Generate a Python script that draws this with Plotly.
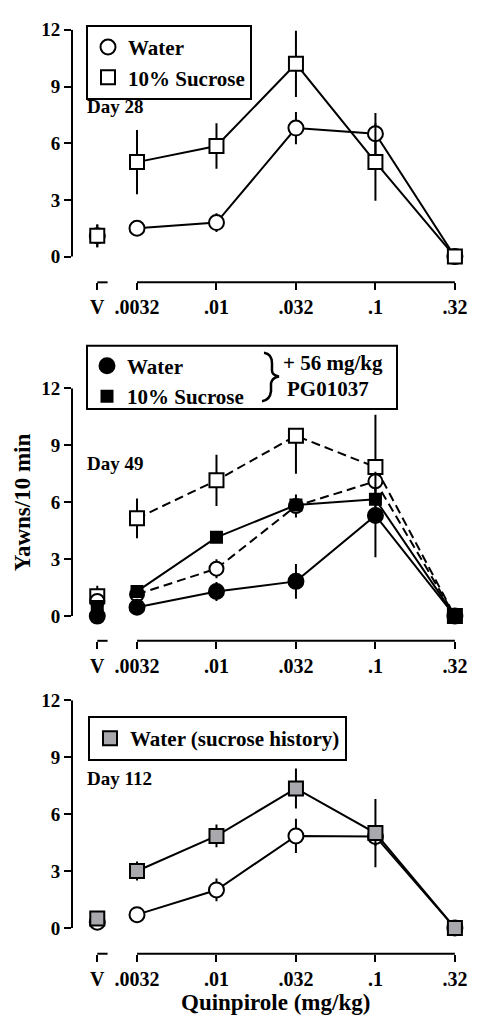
import plotly.graph_objects as go

# ---------------- data ----------------
dose_labels = ["V", ".0032", ".01", ".032", ".1", ".32"]
dose_pos = [-0.5, 0, 1, 2, 3, 4]
y_ticks = [0, 3, 6, 9, 12]

# Day 28
d28_water = [1.1, 1.5, 1.8, 6.8, 6.5, 0.0]
d28_water_err = [0.6, 0.3, 0.5, 0.85, 1.1, 0.0]
d28_sucrose = [1.1, 5.0, 5.85, 10.2, 5.0, 0.0]
d28_sucrose_err = [0.6, 1.7, 1.2, 1.75, 2.05, 0.0]

# Day 49
d49_water = [0.8, 1.15, 2.5, 5.8, 7.1, 0.0]
d49_water_err = [0.3, 0.3, 0.5, 0.6, 0.5, 0.0]
d49_sucrose = [1.05, 5.15, 7.15, 9.5, 7.85, 0.0]
d49_sucrose_err_plus = [0.55, 1.05, 1.35, 0.0, 2.75, 0.0]
d49_sucrose_err_minus = [0.55, 1.05, 1.35, 2.0, 2.75, 0.0]
d49_water_pg = [0.0, 0.47, 1.3, 1.83, 5.3, 0.0]
d49_water_pg_err = [0.2, 0.2, 0.5, 0.92, 2.2, 0.0]
d49_sucrose_pg = [0.5, 1.3, 4.15, 5.85, 6.15, 0.0]
d49_sucrose_pg_err = [0.2, 0.3, 0.3, 0.3, 0.3, 0.0]

# Day 112
d112_water = [0.3, 0.7, 2.0, 4.85, 4.82, 0.0]
d112_water_err = [0.2, 0.2, 0.6, 0.9, 0.5, 0.0]
d112_suchist = [0.5, 3.0, 4.85, 7.35, 5.0, 0.0]
d112_suchist_err = [0.3, 0.5, 0.6, 1.05, 1.8, 0.0]

# ---------------- layout helpers ----------------
W, H = 481, 1028
FONT = "Liberation Serif"


def px(x):
    return x / W


def py(y):
    return 1 - y / H


panels = [
    dict(top=20, bottom=275, ymin=-1.36),
    dict(top=382, bottom=637, ymin=-1.30),
    dict(top=697, bottom=953, ymin=-1.36),
]

fig = go.Figure()


def add_series(i, values, err_plus, err_minus, symbol, fill, size, dash="solid"):
    xa = "x" if i == 1 else f"x{i}"
    ya = "y" if i == 1 else f"y{i}"
    marker = dict(symbol=symbol, size=size, color=fill, line=dict(color="black", width=2))
    err = lambda p, m: dict(type="data", symmetric=False, array=p, arrayminus=m,
                            color="black", thickness=2, width=0)
    fig.add_trace(go.Scatter(
        x=dose_pos[:1], y=values[:1], mode="markers", marker=marker,
        error_y=err(err_plus[:1], err_minus[:1]), xaxis=xa, yaxis=ya,
        showlegend=False, cliponaxis=False, hoverinfo="skip"))
    fig.add_trace(go.Scatter(
        x=dose_pos[1:], y=values[1:], mode="lines+markers", marker=marker,
        line=dict(color="black", width=2, dash=dash),
        error_y=err(err_plus[1:], err_minus[1:]), xaxis=xa, yaxis=ya,
        showlegend=False, cliponaxis=False, hoverinfo="skip"))


def add_legend_entry(name, symbol, fill, size, legend):
    fig.add_trace(go.Scatter(
        x=[None], y=[None], mode="markers", name=name,
        marker=dict(symbol=symbol, size=size, color=fill, line=dict(color="black", width=2)),
        legend=legend, showlegend=True))


add_series(1, d28_water, d28_water_err, d28_water_err, "circle", "white", 15)
add_series(1, d28_sucrose, d28_sucrose_err, d28_sucrose_err, "square", "white", 14)

add_series(2, d49_sucrose, d49_sucrose_err_plus, d49_sucrose_err_minus, "square", "white", 14, dash="9px,5px")
add_series(2, d49_water, d49_water_err, d49_water_err, "circle", "white", 14, dash="9px,5px")
add_series(2, d49_water_pg, d49_water_pg_err, d49_water_pg_err, "circle", "black", 15)
add_series(2, d49_sucrose_pg, d49_sucrose_pg_err, d49_sucrose_pg_err, "square", "black", 11)

add_series(3, d112_water, d112_water_err, d112_water_err, "circle", "white", 15)
add_series(3, d112_suchist, d112_suchist_err, d112_suchist_err, "square", "#a9a9ad", 14)

add_legend_entry("Water", "circle", "white", 15, "legend")
add_legend_entry("10% Sucrose", "square", "white", 14, "legend")
add_legend_entry("Water", "circle", "black", 15, "legend2")
add_legend_entry("10% Sucrose", "square", "black", 11, "legend2")
add_legend_entry("Water (sucrose history)", "square", "#a9a9ad", 14, "legend3")

layout = dict(
    width=W, height=H, margin=dict(l=0, r=0, t=0, b=0),
    paper_bgcolor="white", plot_bgcolor="white",
    font=dict(family=FONT, color="black", size=18, weight="bold"),
)

shapes = []
tickfont_y = dict(family=FONT, size=19, color="black", weight="bold")
tickfont_x = dict(family=FONT, size=20, color="black", weight="bold")
for idx, p in enumerate(panels, start=1):
    sfx = "" if idx == 1 else str(idx)
    layout[f"xaxis{sfx}"] = dict(
        domain=[px(72), px(470)], range=[-0.818, 4.19],
        tickmode="array", tickvals=dose_pos, ticktext=dose_labels,
        ticks="outside", ticklen=7, tickwidth=2, tickcolor="black",
        showline=False, showgrid=False, zeroline=False,
        anchor=f"y{sfx}", tickfont=tickfont_x, fixedrange=True)
    layout[f"yaxis{sfx}"] = dict(
        domain=[py(p["bottom"]), py(p["top"])], range=[p["ymin"], 12],
        tickmode="array", tickvals=y_ticks,
        ticks="outside", ticklen=7, tickwidth=2, tickcolor="black",
        showline=False, showgrid=False, zeroline=False,
        anchor=f"x{sfx}", tickfont=tickfont_y, fixedrange=True)
    shapes.append(dict(type="line", xref=f"x{sfx} domain", yref=f"y{sfx}",
                       x0=0, x1=0, y0=y_ticks[0], y1=y_ticks[-1],
                       line=dict(color="black", width=2)))
    shapes.append(dict(type="line", xref=f"x{sfx}", yref=f"y{sfx} domain",
                       x0=dose_pos[0], x1=dose_pos[0] + 0.13, y0=0, y1=0,
                       line=dict(color="black", width=2)))
    shapes.append(dict(type="line", xref=f"x{sfx}", yref=f"y{sfx} domain",
                       x0=dose_pos[1], x1=dose_pos[-1], y0=0, y1=0,
                       line=dict(color="black", width=2)))

shapes.append(dict(type="rect", xref="paper", yref="paper",
                   x0=px(87), x1=px(397), y0=py(403), y1=py(339),
                   line=dict(color="black", width=2), fillcolor="rgba(0,0,0,0)"))

brace_pts = [(264, 346), (272, 347), (272, 357), (272, 364), (272, 369), (279, 370),
             (272, 371), (271, 377), (271, 385), (270, 394), (262, 395)]
b = [f"{px(x):.5f},{py(y):.5f}" for x, y in brace_pts]
brace_path = (f"M {b[0]} Q {b[1]} {b[2]} L {b[3]} Q {b[4]} {b[5]} "
              f"Q {b[6]} {b[7]} L {b[8]} Q {b[9]} {b[10]}")
shapes.append(dict(type="path", xref="paper", yref="paper", path=brace_path,
                   line=dict(color="black", width=2.5)))

layout["shapes"] = shapes

legend_font = dict(family=FONT, size=21, color="black", weight="bold")
layout["legend"] = dict(x=px(86), y=py(15), xanchor="left", yanchor="top",
                        bordercolor="black", borderwidth=2, bgcolor="white",
                        font=legend_font, tracegroupgap=0)
layout["legend2"] = dict(x=px(87), y=py(339), xanchor="left", yanchor="top",
                         borderwidth=0, bgcolor="rgba(0,0,0,0)",
                         font=legend_font, tracegroupgap=0)
layout["legend3"] = dict(x=px(88), y=py(713), xanchor="left", yanchor="top",
                         bordercolor="black", borderwidth=2, bgcolor="white",
                         font=legend_font, tracegroupgap=0)


def ann(text, x, y, size=19, xanchor="left", angle=0):
    return dict(text=text, x=px(x), y=py(y), xref="paper", yref="paper",
                xanchor=xanchor, yanchor="middle", showarrow=False, textangle=angle,
                font=dict(family=FONT, size=size, color="black", weight="bold"))


layout["annotations"] = [
    ann("Day 28", 85, 97),
    ann("Day 49", 85, 458),
    ann("Day 112", 85, 776),
    ann("+ 56 mg/kg", 281, 356, size=21),
    ann("PG01037", 285, 383, size=21),
    ann("Yawns/10 min", 22, 497, size=23, xanchor="center", angle=-90),
    ann("Quinpirole (mg/kg)", 275, 1002, size=23, xanchor="center"),
]

fig.update_layout(**layout)
fig.write_html("out.html", config={"displayModeBar": False},
               post_script="document.body.style.margin='0';document.body.style.padding='0';")
